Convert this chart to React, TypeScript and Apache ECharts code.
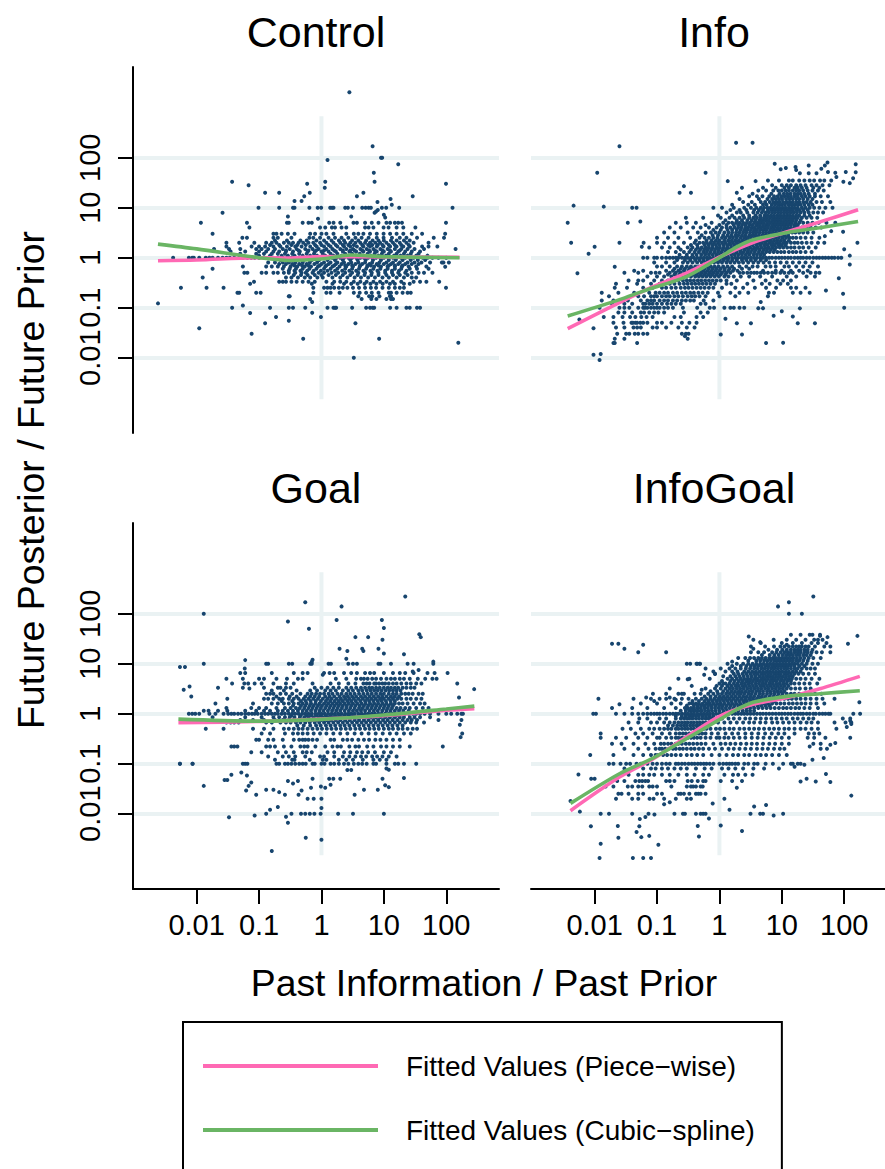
import React, { useEffect, useRef } from "react";
import * as echarts from "echarts";

const PIECE = "Fitted Values (Piece\u2212wise)";
const CUBIC = "Fitted Values (Cubic\u2212spline)";
const tickValues = [0.01, 0.1, 1, 10, 100];
const xMin = 0.000955, xMaxLeft = 700, xMaxRight = 451, yMin = 0.000312, yMax = 6516;
const vSpan = [0.00148, 676];
const titles = ["Control", "Info", "Goal", "InfoGoal"];
const pink = [
  [[0.0024,0.87],[0.01,0.9],[0.1,1.0],[0.3,0.98],[1,1.05],[10,1.03],[163,1.02]],
  [[0.0037,0.038],[0.06,0.215],[0.295,0.49],[1,1.03],[3.07,1.9],[11.9,3.26],[40.7,5.2],[167,9.1]],
  [[0.0051,0.66],[0.1,0.7],[1,0.78],[10,0.91],[100,1.17],[282,1.26]],
  [[0.0041,0.0115],[0.025,0.054],[0.087,0.126],[0.295,0.34],[1,0.885],[3.47,1.54],[11.9,2.09],[40.7,3.16],[178,5.58]],
];
const green = [
  [[0.0024,1.87],[0.01,1.5],[0.1,1.0],[0.3,0.88],[1,0.94],[3,1.13],[10,1.05],[163,1.0]],
  [[0.0037,0.068],[0.025,0.145],[0.06,0.215],[0.295,0.42],[1,1],[1.87,1.63],[3.47,2.29],[11.9,3.16],[40.7,3.98],[167,5.3]],
  [[0.0051,0.78],[0.1,0.71],[1,0.77],[10,0.94],[100,1.24],[282,1.42]],
  [[0.0041,0.0161],[0.025,0.063],[0.087,0.13],[0.295,0.316],[1,0.76],[1.87,1.2],[3.47,1.69],[11.9,2.22],[40.7,2.51],[178,2.88]],
];

type Rows = [number, number[]][];
const controlExtra = [[2.8,2030],[6.6,169],[9,100],[9.4,100],[1.25,90],[17,74],[6.9,50],[7.1,33],[0.037,33],[0.068,28],[0.59,30],[1.15,33],[1.13,25],[99,30],[0.125,20],[0.21,20],[0.65,20],[4.7,20],[0.53,17],[0.48,13.6],[0.37,13.6],[3.7,17],[29,17],[12.8,15],[7.9,13],[13.4,11.5],[0.026,7.9],[0.0117,5],[0.29,6.7],[0.88,6],[3,6.7],[7.1,7.9],[10,7.2],[10.5,6.4],[0.018,3],[0.07,4],[0.0024,0.122],[0.011,0.039],[0.055,0.111],[0.072,0.078],[0.076,0.03],[0.125,0.049],[0.187,0.065],[0.3,0.055],[0.51,0.024],[0.71,0.079],[0.71,0.13],[0.98,0.065],[3.5,0.049],[3.3,0.01],[8.4,0.024],[156,0.02],[0.0125,0.4],[0.018,0.6],[99,0.25],[77,0.33],[96,0.66],[85,0.8],[141,1.5],[8,9],[7.5,8.4]];
const controlRows: Rows = [
  [10,[0.098,0.21,0.35,0.37,0.64,0.87,0.99,1.38,1.48,1.56,2.4,2.65,3.2,4.5,5.1,5.7,6.2,9.3,10.9,17.6,126]],
  [5,[0.064,0.28,0.3,0.5,0.62,0.7,1.33,1.56,2,3.26,3.7,5,6.4,8.2,11,12.6,15,17,19.5,99]],
  [4,[0.95,1.15,1.47,1.65,2.1,2.5,5,5.7,6.8,9.9,11.9,16,20.5,32]],
  [3,[0.17,0.19,0.23,0.29,0.37,0.66,0.79,1,1.2,1.56,2.5,3.3,3.9,4.7,6,7.7,9.9,12.6,16,20.5,28,41,96]],
  [2.5,[0.054,0.064,0.17,0.2,0.33,0.64,0.74,0.95,1.3,1.65,2.1,2.7,3.5,4.4,5.7,7.7,9.9,13.5,18,23,34,63,92]],
  [2.2,[0.18,0.28,0.46,0.58,0.83,1.1,1.45,1.9,2.3,3.1,3.9,5.2,6.6,8.2,10,13,16,21,26]],
  [2,[0.03,0.048,0.084,0.13,0.16,0.19,0.25,0.3,0.35,0.43,0.51,0.62,0.74,0.95,1.2,1.56,2,2.4,2.9,3.5,4.2,5,6,7.3,8.7,11,14,18,23,30,52]],
  [1.8,[0.15,0.21,0.33,0.41,0.56,0.79,1,1.3,1.7,2.2,2.7,3.3,4.5,5.6,6.5,8,9.5,12,15,19,25]],
  [1.67,[0.03,0.076,0.1,0.125,0.17,0.22,0.28,0.38,0.48,0.66,0.84,1.1,1.4,1.8,2.3,2.9,3.7,4.7,6,7.7,9.9,12.6,16,20.5,26,41,52,72]],
  [1.5,[0.019,0.033,0.05,0.09,0.11,0.14,0.18,0.24,0.31,0.4,0.55,0.72,0.9,1.2,1.5,2,2.5,3.2,4.2,5.3,6.8,8.8,11.5,15,19,24,31,44]],
  [1.4,[0.27,0.43,0.62,0.82,1.1,1.6,2.2,2.9,3.4,4.5,5.8,7.2,9.5,12.5,18]],
  [1.33,[0.035,0.06,0.1,0.13,0.17,0.21,0.27,0.35,0.45,0.6,0.78,1,1.3,1.7,2.2,2.8,3.6,4.7,6,7.7,10,13,17,22,28,38]],
  [1.2,[0.05,0.09,0.12,0.16,0.2,0.26,0.34,0.44,0.58,0.76,1.05,1.4,1.8,2.4,3.1,4.1,5.5,7.1,9.3,12,16,21,27,36]],
  [1.1,[0.1,0.15,0.23,0.29,0.37,0.5,0.66,0.85,1.15,1.55,2.1,2.7,3.5,4.6,6.2,8.2,10.8,14.5,18.5,24,33,50]],
  [1,[0.0042,0.0075,0.0085,0.009,0.011,0.014,0.016,0.018,0.022,0.026,0.03,0.034,0.04,0.048,0.055,0.065,0.075,0.085,0.1,0.12,0.14,0.17,0.2,0.24,0.28,0.33,0.39,0.45,0.52,0.6,0.7,0.8,0.9,1,1.15,1.3,1.5,1.75,2,2.3,2.7,3.1,3.6,4.2,4.8,5.6,6.5,7.5,8.7,10,12,14,16,19,22,26,30,35,42,50,60,75,100]],
  [0.9,[0.22,0.3,0.4,0.52,0.7,0.92,1.25,1.65,2.2,2.9,3.8,5.1,6.7,9,12,15.5,20,27,35,46]],
  [0.8,[0.14,0.18,0.24,0.3,0.38,0.5,0.65,0.85,1.1,1.4,1.8,2.3,3,3.9,5,6.5,8.5,11,14,18,24,31,40,55,90,110]],
  [0.75,[0.21,0.27,0.34,0.44,0.58,0.77,1,1.3,1.7,2.1,2.7,3.5,4.5,5.9,7.7,10,13,17,22,28,36]],
  [0.7,[0.37,0.49,0.62,0.94,1.2,1.6,2.4,3.1,4.2,5.5,6.2,8.2,12,15,20]],
  [0.67,[0.055,0.13,0.16,0.2,0.25,0.32,0.41,0.54,0.68,0.88,1.15,1.5,1.95,2.5,3.2,4.1,5.4,7,9,11.5,15,19.5,25,33,48]],
  [0.6,[0.24,0.31,0.39,0.5,0.64,0.83,1.1,1.4,1.8,2.4,3.1,4,5.2,6.8,8.8,11.5,15,19,26,34,52]],
  [0.55,[0.3,0.37,0.46,0.59,0.75,0.98,1.25,1.65,2.15,2.8,3.6,4.7,6.1,7.9,10.5,13.5,17.5,23]],
  [0.5,[0.058,0.065,0.11,0.13,0.17,0.2,0.25,0.3,0.38,0.48,0.56,0.72,0.9,1.1,1.45,1.85,2.4,3.1,3.9,5,6.4,8.2,10.5,13.5,17,22,28,36,44,60]],
  [0.45,[0.36,0.47,0.6,0.78,1,1.3,1.7,2.2,2.9,3.8,4.9,6.3,8.2,11,14,18,24]],
  [0.4,[0.27,0.33,0.42,0.54,0.66,0.86,1.05,1.5,2,2.6,3.4,4.3,5.6,7.2,9.5,12,16,21,28,33]],
  [0.33,[0.083,0.21,0.24,0.27,0.33,0.4,0.5,0.62,0.78,1.2,1.6,2,2.5,3.3,4.2,5.3,6.8,8.7,11,14,19,30,38,48]],
  [0.3,[0.072,0.7,1.5,2.3,3,3.8,4.9,6.1,7.6,9.6,12.5,15,21,26]],
  [0.25,[0.0056,0.0144,0.027,0.74,1.1,1.25,1.4,1.6,1.9,2.2,2.6,3.2,4,5,6.2,7.5,9.5,12,15,18,21]],
  [0.2,[0.045,0.048,0.09,0.106,0.74,1.2,1.4,1.95,3.3,4.1,5.2,6.4,8.2,12,13,16,20,24,27]],
  [0.17,[0.3,0.31,3.9,5.8,6.5,8.5,12.5,13]],
  [0.15,[0.66,4.4,6.3,7.6,11,13,14]],
  [0.1,[0.037,0.15,0.3,0.35,0.55,1.25,1.56,1.65,1.72,3.1,5.2,6,6.6,7,12.6,16,23,26,34,38]],
];

const infoExtra = [[0.025,170],[1.85,200],[3.4,200],[0.011,50],[0.6,50],[0.0046,11],[0.014,10.5],[0.04,10],[0.047,10],[0.0037,5],[0.034,5],[0.054,5.3],[0.0042,2],[0.025,2],[0.057,1.66],[0.01,1.66],[0.008,1.2],[0.0053,0.49],[0.021,0.66],[0.27,27],[0.23,20],[0.35,20],[1.36,34],[3.8,34],[1.9,20],[2.3,25],[7.7,76],[9.6,59],[11.6,62],[16.6,65],[27,70],[54,80],[153,74],[153,51],[106,52],[72,50],[43,60],[49,70],[19.5,49],[27,49],[36,49],[17,57],[139,39],[123,31],[97,33],[75,41],[55,52],[163,2],[123,1.1],[123,0.73],[100,1.47],[96,3.3],[62,3.4],[49,2.7],[82,0.39],[96,0.19],[100,0.1],[51,0.22],[0.0096,0.0115],[0.0125,0.0119],[0.012,0.009],[0.0096,0.039],[0.0057,0.058],[0.048,0.0196],[0.02,0.0196],[0.021,0.0196],[0.021,0.024],[0.03,0.024],[0.31,0.024],[0.28,0.027],[1.05,0.029],[2.3,0.029],[5.6,0.0196],[10.5,0.02],[34,0.049],[18,0.049],[3.2,0.049],[1.9,0.049],[10,0.085],[7.4,0.069],[15,0.067],[19.5,0.097],[4.6,0.13],[4.2,0.098],[5,0.098],[1.25,0.06]];
const infoRows: Rows = [
  [35,[6,9,13,15,19,23,28,33,41,48,62]],
  [28,[7,10,12,14,17,20,24,30,36,45,58]],
  [25,[5,8,11,13,16,18,21,25,32,40]],
  [22,[4.2,5.6,7.3,8.8,10,11.5,13,15,17,19,22,26,31,38,47]],
  [19,[3.4,6.8,9.2,10.8,12.2,13.8,16,18,20,23,27,34]],
  [17,[3,4,4.9,6.3,7.5,8.6,9.8,11,12.5,14,16,18,21,24,28,34,42,55]],
  [15,[2.1,4.3,5.9,7,8,9,10.1,11.7,13.2,15,17,19,22,26,31]],
  [13,[2.4,3.3,4.6,5.4,6.4,7.3,8.3,9.3,10.5,12,13.5,15,17,19,22,25,29,36,44,60]],
  [11.5,[1.6,2.9,3.7,5,5.7,6.9,7.8,8.8,9.9,11.2,12.7,14.2,16,18,20,23,27,31]],
  [10,[0.8,1.1,1.7,2.5,3.2,3.9,4.6,5.2,5.9,6.6,7.4,8.3,9.2,10.3,11.5,13,14.5,16,18,21,24,28,33,40,50,65]],
  [9,[1.5,2.1,2.7,3.6,4.3,5,6,6.8,7.6,8.5,9.6,10.8,12,13.4,15,17,19,22,26]],
  [8,[1.3,1.9,2.2,2.8,3.5,4.1,4.8,5.5,6.2,7,7.8,8.8,9.8,11,12.3,13.8,15.5,17.5,20,23,27,32,38,46]],
  [7,[0.95,1.6,2.4,3,3.8,4.5,5.3,5.9,6.7,7.5,8.5,9.5,10.7,12,13.3,15,17,19,23,28]],
  [6.3,[0.29,0.55,1.05,1.45,1.75,2.1,2.5,3,3.5,4,4.6,5.2,5.8,6.5,7.3,8.2,9.1,10.2,11.4,12.8,14.3,16,18,21,25,30,37]],
  [5.6,[1.25,1.9,2.3,2.8,3.3,3.8,4.4,4.9,5.5,6.2,7,7.8,8.7,9.7,10.9,12.2,13.6,15,17,20]],
  [5,[0.2,0.3,0.42,0.75,1.15,1.4,1.6,1.85,2.1,2.4,2.75,3.1,3.6,4.1,4.6,5.1,5.8,6.5,7.3,8.2,9.2,10.3,11.6,13,14.5,16.5,19,22,26,31,39,52,72]],
  [4.5,[0.6,1,1.3,1.7,2,2.3,2.6,3,3.4,3.9,4.4,5,5.6,6.2,7,7.9,8.9,10,11.2,12.5,14,16,18]],
  [4,[0.16,0.24,0.38,0.5,0.68,0.9,1.1,1.3,1.5,1.75,2,2.25,2.6,2.9,3.3,3.7,4.2,4.7,5.3,6,6.8,7.6,8.6,9.7,11,12.4,14,16,18,21,25,29,35,43]],
  [3.6,[0.8,1.05,1.35,1.6,1.9,2.2,2.5,2.8,3.2,3.6,4,4.5,5.1,5.7,6.5,7.3,8.3,9.3,10.5,11.8,13.5,15]],
  [3.2,[0.13,0.19,0.31,0.45,0.6,0.73,0.87,1,1.2,1.4,1.6,1.85,2.1,2.4,2.7,3.1,3.5,3.9,4.4,5,5.6,6.3,7.1,8,9,10.2,11.5,13,14.7,16.5,19,22,26,32]],
  [2.8,[0.52,0.78,0.95,1.15,1.35,1.55,1.8,2,2.3,2.6,3,3.4,3.8,4.3,4.9,5.5,6.1,6.9,7.8,8.8,9.9,11,12.6]],
  [2.5,[0.1,0.15,0.22,0.34,0.48,0.58,0.68,0.8,0.93,1.1,1.25,1.45,1.65,1.9,2.2,2.5,2.8,3.2,3.7,4.2,4.8,5.4,6.2,7,8,9,10.3,11.7,13.3,15,17,20,24,30,40]],
  [2.2,[0.42,0.62,0.75,0.88,1,1.2,1.38,1.58,1.8,2.05,2.35,2.65,3,3.4,3.9,4.5,5.1,5.8,6.6,7.5,8.5,9.7,11,13]],
  [2,[0.061,0.1,0.13,0.19,0.27,0.4,0.48,0.55,0.63,0.72,0.82,0.95,1.1,1.25,1.45,1.65,1.9,2.15,2.45,2.8,3.2,3.7,4.2,4.8,5.5,6.3,7.2,8.2,9.3,10.7,12,14,16,18,21,25,30,38,48]],
  [1.8,[0.35,0.44,0.58,0.67,0.77,0.88,1,1.16,1.33,1.52,1.73,2,2.3,2.6,3,3.4,3.95,4.5,5.2,5.9,6.8,7.7,8.8,10,11.5]],
  [1.6,[0.075,0.12,0.16,0.22,0.31,0.37,0.45,0.52,0.6,0.68,0.78,0.9,1.02,1.18,1.35,1.55,1.78,2.05,2.35,2.7,3.1,3.6,4.1,4.7,5.4,6.2,7.1,8.1,9.3,10.6,12.2,14,16,19,22,27,35]],
  [1.45,[0.24,0.35,0.42,0.49,0.57,0.65,0.74,0.85,0.97,1.12,1.28,1.47,1.68,1.93,2.2,2.55,2.9,3.35,3.85,4.4,5.1,5.8,6.7,7.7]],
  [1.3,[0.15,0.2,0.27,0.33,0.4,0.47,0.55,0.63,0.72,0.83,0.95,1.08,1.24,1.42,1.63,1.87,2.15,2.45,2.8,3.2,3.7,4.3,4.9,5.6,6.4,7.4,8.5,9.7,11,13,15,17,20,24,30]],
  [1.15,[0.23,0.3,0.37,0.43,0.51,0.59,0.68,0.78,0.89,1.02,1.17,1.34,1.54,1.76,2,2.3,2.65,3,3.5,4,4.6,5.2]],
  [1,[0.06,0.07,0.09,0.1,0.12,0.14,0.16,0.18,0.2,0.22,0.25,0.28,0.31,0.35,0.39,0.44,0.5,0.56,0.63,0.7,0.79,0.88,1,1.12,1.26,1.4,1.6,1.8,2,2.25,2.5,2.8,3.2,3.6,4,4.5,5,5.6,6.3,7,8,9,10,11.2,12.6,14,16,18,20,22,25,28,32,36,40,45,50,56,63,70,80,90]],
  [0.9,[0.21,0.28,0.34,0.41,0.48,0.56,0.65,0.76,0.88,1.02,1.18,1.37,1.6,1.9,2.3,2.7,3.2,3.8,4.6,5.6]],
  [0.8,[0.09,0.14,0.19,0.26,0.31,0.37,0.44,0.52,0.6,0.7,0.82,0.95,1.1,1.3,1.5,1.75,2.05,2.4,2.9,3.5,4.2,5.1,6.3,7.8,9.6,12,15,19,24,31]],
  [0.67,[0.12,0.1,0.16,0.21,0.25,0.3,0.35,0.41,0.47,0.55,0.63,0.73,0.84,0.97,1.15,1.35,1.6,2.1,2.7,3.4,4.1,5.5,6.6,8,11,13,17,22,28,38]],
  [0.6,[0.19,0.24,0.28,0.33,0.38,0.44,0.51,0.58,0.67,0.78,0.9,1.05,1.22,1.45,1.72,2.3,3]],
  [0.55,[0.043,0.06,0.14,0.18,0.22,0.27,0.32,0.37,0.42,0.49,0.56,0.65,0.75,0.87,1,1.2,1.4,1.65,1.95,5,8,10,14,19,26]],
  [0.5,[0.03,0.05,0.08,0.095,0.11,0.16,0.2,0.24,0.29,0.34,0.39,0.45,0.52,0.6,0.7,0.8,0.93,1.1,1.3,1.5,2.1,2.4,2.8,3.2,3.6,4,4.6,5.2,6,7,8,9.5,11,13,15,22,29,35,40]],
  [0.46,[0.15,0.19,0.23,0.27,0.32,0.37,0.43,0.5,0.58,0.67,0.77,0.9,1.05,1.25]],
  [0.42,[0.07,0.1,0.13,0.17,0.21,0.26,0.3,0.35,0.41,0.47,0.54,0.62,0.72,0.84,0.98,1.2,1.4,1.7,2.2,3,4.5,7,12,17,25,34]],
  [0.35,[0.035,0.05,0.06,0.09,0.12,0.15,0.18,0.22,0.26,0.3,0.34,0.39,0.45,0.51,0.59,0.68,0.78,0.9,1.05,1.3,1.9,3.5,5.5,8.5,10.5,14]],
  [0.3,[0.022,0.048,0.08,0.11,0.13,0.16,0.19,0.23,0.27,0.31,0.36,0.41,0.47,0.54,0.62,0.72,0.85,1.3,1.55,2.8,4.8,6.4,9.5,12.5]],
  [0.25,[0.021,0.033,0.06,0.085,0.12,0.14,0.17,0.2,0.24,0.28,0.32,0.37,0.43,0.5,0.58,0.68,0.8,1.1,1.8,2.4,3.7,5.6,8.1,14,17,24]],
  [0.2,[0.013,0.024,0.043,0.075,0.095,0.11,0.13,0.15,0.18,0.21,0.25,0.29,0.34,0.39,0.46,0.54,0.65,0.95,1.5,2.1,2.9,6.2,7.5,15,20,28]],
  [0.17,[0.017,0.05,0.062,0.08,0.09,0.1,0.12,0.14,0.16,0.19,0.22,0.26,0.31,0.36,0.41,0.48,0.6,1,1.8,6]],
  [0.14,[0.013,0.02,0.034,0.055,0.07,0.08,0.09,0.11,0.13,0.15,0.18,0.21,0.25,0.29,0.34,0.39,0.56,0.8]],
  [0.12,[0.019,0.03,0.04,0.06,0.065,0.075,0.085,0.1,0.12,0.145,0.17,0.2,0.24,0.5,0.6]],
  [0.1,[0.012,0.025,0.03,0.036,0.05,0.06,0.064,0.07,0.08,0.09,0.1,0.11,0.13,0.15,0.18,0.26,0.44,0.7,0.82,1.2,1.5,1.7,2.1,2.5]],
  [0.08,[0.024,0.03,0.04,0.055,0.062,0.075,0.09,0.105,0.13,0.27,0.5,0.65]],
  [0.065,[0.014,0.02,0.028,0.037,0.045,0.056,0.068,0.085,0.19,0.24,0.43,0.55]],
  [0.05,[0.02,0.029,0.039,0.041,0.045,0.048,0.054,0.06,0.07,0.1,0.12,0.17,0.25,0.33,0.43]],
  [0.04,[0.022,0.03,0.042,0.048,0.055,0.085,0.1,0.14,0.22,0.3,0.4]],
  [0.03,[0.023,0.032,0.036,0.044,0.05,0.06,0.07,0.25,0.29,0.32]],
];

const goalExtra = [[0.55,170],[2.1,140],[22,220],[0.013,100],[0.29,70],[1.75,75],[0.63,50],[9.3,75],[10,52],[37,39],[39,34],[3.5,34],[5.6,34],[9.5,30],[1.95,20],[2.6,18],[4.5,20],[4.7,18],[8.2,20],[10,16],[21,15.5],[2.5,12.6],[0.06,11.8],[0.72,12],[0.7,11],[62,11],[0.0054,8.6],[1.05,6],[0.0065,8.6],[0.059,8],[29,7],[36,7.5],[0.07,3.2],[0.0077,3.5],[0.0082,2.2],[0.0062,3],[0.0054,0.1],[0.0086,0.1],[0.013,0.036],[0.033,0.0085],[0.085,0.0092],[0.16,0.0018],[0.56,0.0033],[1,0.003],[0.031,0.047],[0.028,0.047],[0.036,0.06],[0.052,0.067],[0.064,0.058],[0.075,0.042],[0.068,0.036],[0.062,0.029],[0.09,0.024],[0.15,0.012],[0.27,0.0087],[0.33,0.01],[0.13,0.01],[0.47,0.01],[0.55,0.01],[0.65,0.01],[0.77,0.01],[0.97,0.01],[1.85,0.01],[3.2,0.01],[10,0.01],[0.29,0.0066],[0.2,0.0136],[1,0.013],[0.75,0.02],[1,0.02],[0.6,0.02],[0.43,0.024],[0.21,0.027],[0.26,0.024],[0.17,0.03],[0.13,0.03],[0.29,0.045],[0.35,0.04],[0.48,0.029],[0.42,0.045],[0.68,0.033],[0.72,0.05],[0.98,0.035],[1.4,0.038],[1.15,0.033],[1.33,0.05],[1.55,0.05],[2,0.05],[3.4,0.024],[4.8,0.03],[4,0.05],[8,0.03],[9.5,0.05],[10.5,0.037],[12,0.034],[21,0.052],[11,0.08],[12,0.076],[2.6,0.075],[3,0.075],[175,0.75],[165,0.6],[180,0.4],[170,0.34],[88,0.22],[280,3.1],[160,2.1]];
const goalRows: Rows = [
  [10,[0.013,0.13,0.14,0.3,0.34,0.66,0.7,1.3,1.42,2.7,3.2,3.7,8.2,8.8,13,24,30,62]],
  [6.5,[0.05,0.06,0.16,0.36,0.5,0.6,1.1,1.35,1.6,2.3,3,3.7,5,6,7,10,14,18,22,30,50,65,105]],
  [5,[0.03,0.055,0.1,0.12,0.19,0.28,0.42,0.5,1.7,2.5,3.6,4.3,4.8,5.5,6.5,7.5,9,11,13,15,18,21,26,35,46,60,70]],
  [4,[0.037,0.058,0.067,0.085,0.11,0.17,0.27,0.36,0.72,1.4,1.9,2.7,3.5,4.7,5.3,5.9,7,7.5,8.4,9.5,10.5,12,14,16,19,23,27,33,40,150]],
  [3.3,[0.022,0.055,0.12,0.2,0.22,0.27,0.32,0.78,1,1.25,1.55,1.9,2.5,3,3.6,4.3,5,5.8,6.5,7.5,8.6,10,11.5,13,15,17,20,23,27,31]],
  [2.9,[0.16,0.25,0.4,0.66,0.85,1.15,1.4,1.7,2.2,2.7,3.2,3.9,4.5,5.3,6.1,7,8,9.2,10.7,12.2,14,16,18.5]],
  [2.5,[0.13,0.15,0.17,0.22,0.27,0.34,0.46,0.6,0.7,0.82,0.95,1.1,1.3,1.5,1.8,2.1,2.5,2.9,3.4,4,4.7,5.5,6.4,7.5,8.8,10,12,14,16,19,22,25,29,36,42]],
  [2.2,[0.19,0.31,0.4,0.55,0.66,0.78,0.92,1.15,1.35,1.6,1.95,2.3,2.65,3.1,3.6,4.3,5,5.9,6.9,8.1,9.4,11,13,15,17.5]],
  [2,[0.031,0.12,0.14,0.17,0.21,0.24,0.3,0.36,0.43,0.52,0.62,0.74,0.88,1.05,1.25,1.45,1.75,2.05,2.4,2.8,3.3,3.9,4.6,5.4,6.3,7.4,8.7,10,12,14,16.5,19,23,27,33,40]],
  [1.8,[0.23,0.34,0.47,0.56,0.67,0.81,0.98,1.18,1.38,1.62,1.9,2.2,2.6,3,3.55,4.2,5,5.8,6.8,8,9.2,10.8,12.8,15]],
  [1.6,[0.02,0.08,0.16,0.2,0.25,0.3,0.36,0.43,0.5,0.58,0.68,0.8,0.93,1.1,1.28,1.5,1.75,2,2.35,2.75,3.2,3.75,4.4,5.1,6,7,8.1,9.5,11,13,15,17.5,20,24,30,38,45]],
  [1.45,[0.35,0.47,0.55,0.65,0.75,0.88,1.02,1.2,1.4,1.63,1.9,2.2,2.55,3,3.5,4.1,4.8,5.6,6.5,7.6,8.9,10.3,12,14]],
  [1.3,[0.03,0.075,0.1,0.13,0.19,0.26,0.32,0.39,0.45,0.53,0.62,0.72,0.84,0.98,1.15,1.34,1.56,1.82,2.13,2.5,2.9,3.4,4,4.6,5.4,6.3,7.3,8.5,10,11.6,13.5,16,18.5,22,26,33,42,52]],
  [1.15,[0.013,0.0155,0.022,0.031,0.06,0.09,0.12,0.15,0.2,0.24,0.29,0.35,0.42,0.5,0.58,0.68,0.8,0.93,1.08,1.27,1.48,1.72,2,2.35,2.75,3.2,3.7,4.3,5,5.9,6.9,8,9.4,11,12.8,15,17.5,20.5,25]],
  [1,[0.0075,0.0085,0.0095,0.011,0.016,0.02,0.027,0.032,0.036,0.04,0.046,0.052,0.06,0.068,0.077,0.085,0.095,0.11,0.125,0.14,0.16,0.18,0.2,0.23,0.26,0.3,0.34,0.38,0.43,0.49,0.55,0.62,0.7,0.8,0.9,1,1.13,1.28,1.45,1.64,1.85,2.1,2.4,2.7,3,3.4,3.9,4.4,5,5.6,6.4,7.2,8.2,9.2,10.5,12,13.5,15,17,19,22,25,29,33,38,45,55,75,100,120,150,175,185]],
  [0.92,[0.33,0.46,0.58,0.68,0.82,0.98,1.17,1.4,1.65,1.95,2.35,2.75,3.3,3.95,4.8,5.7,6.8,8,9.6,11.4,13.8,16]],
  [0.85,[0.018,0.06,0.11,0.17,0.21,0.26,0.31,0.37,0.45,0.53,0.62,0.75,0.9,1.05,1.25,1.5,1.8,2.15,2.55,3,3.6,4.3,5.2,6.2,7.4,8.8,10.5,12.5,15,18,21,26,31,38,55]],
  [0.75,[0.05,0.08,0.12,0.18,0.24,0.3,0.36,0.43,0.5,0.6,0.7,0.84,1,1.2,1.42,1.7,2,2.4,2.85,3.4,4,4.8,5.7,6.8,8.1,9.7,11.5,13.8,16.5,20,24,28,34,75]],
  [0.67,[0.03,0.035,0.04,0.047,0.13,0.16,0.22,0.27,0.32,0.39,0.46,0.55,0.65,0.78,0.92,1.1,1.3,1.55,1.85,2.2,2.6,3.1,3.7,4.4,5.2,6.2,7.4,8.8,10.5,12.5,15,18,22,27,33,44]],
  [0.58,[0.41,0.52,0.66,0.82,0.97,1.18,1.4,1.66,2,2.35,2.8,3.35,4,4.75,5.7,6.8,8.1,9.6,11.5,13.7,16.5,20]],
  [0.5,[0.014,0.027,0.08,0.12,0.17,0.25,0.3,0.36,0.43,0.5,0.6,0.72,0.86,1.02,1.22,1.45,1.72,2.05,2.45,2.9,3.5,4.15,5,5.9,7,8.3,10,12,14,17,20,24,29,34]],
  [0.4,[0.11,0.15,0.26,0.35,0.42,0.5,0.6,0.75,0.95,1.2,1.55,2,2.6,3.4,4.4,5.7,7.4,9.6,12.5,16,21,27]],
  [0.3,[0.09,0.1,0.14,0.17,0.24,0.36,0.44,0.5,0.55,0.62,0.72,0.85,1.4,1.6,2.2,2.6,3.1,3.9,4.8,5.8,7.3,8.8,11,14,18]],
  [0.22,[0.036,0.04,0.045,0.13,0.15,0.18,0.25,0.33,0.46,0.53,0.6,0.8,1.15,1.5,1.8,2.05,2.8,3.5,4,5.4,6.8,9,11,14,18,26]],
  [0.17,[0.075,0.11,0.2,0.27,0.36,0.5,0.58,0.7,1.25,1.6,2.3,2.9,3.7,4.5,5.6,7.2,10,13]],
  [0.14,[0.14,0.24,0.3,0.38,0.55,0.95,1.1,1.6,2.2,2.8,3.5,4.3,5.2,6.5,7.8,9.5,12,16]],
  [0.12,[0.18,0.34,0.37,0.65,1.05,1.2,1.9,2.5,3.2,4.6,6.8,8.6,11]],
  [0.1,[0.0054,0.0086,0.055,0.06,0.065,0.19,0.21,0.26,0.29,0.33,0.38,0.44,0.5,0.56,0.72,0.78,1,1.12,1.4,1.6,1.9,2.3,2.7,3.3,3.9,4.5,5.3,6.8,7.5,11,15,17,21,33]],
];

const infoGoalExtra = [[13,170],[32,220],[8.7,140],[13,100],[21,100],[31,38],[38,30],[54,34],[41,36],[163,36],[2.95,35],[4.5,27],[3.2,22],[3.5,20],[115,25],[12,24],[0.024,25],[0.03,20],[0.019,25],[0.05,17],[0.06,24],[0.14,17],[0.34,10],[0.43,10],[0.49,10],[0.31,4.9],[0.36,3.6],[0.52,3],[0.57,6],[1.6,11],[0.8,7],[0.85,6.2],[0.025,1.55],[0.019,1.3],[0.067,2.1],[0.09,1.8],[0.16,2.1],[0.2,1.9],[1.9,0.033],[7.4,0.0092],[0.0055,0.061],[0.0088,0.05],[0.01,0.05],[0.0041,0.018],[0.0058,0.011],[0.0125,0.01],[0.017,0.01],[0.0087,0.0056],[0.0125,0.0025],[0.012,0.0013],[0.0235,0.0057],[0.024,0.0033],[0.041,0.0013],[0.06,0.0013],[0.08,0.0013],[0.105,0.0024],[0.056,0.0034],[0.047,0.0043],[0.053,0.0078],[0.04,0.01],[0.065,0.0086],[0.073,0.01],[0.091,0.0096],[0.075,0.0036],[0.052,0.0056],[0.13,0.0155],[0.16,0.017],[0.19,0.01],[0.26,0.01],[0.28,0.01],[0.42,0.01],[0.5,0.01],[0.55,0.01],[0.6,0.01],[0.45,0.0057],[0.47,0.0035],[0.68,0.008],[0.78,0.016],[1.05,0.0058],[1.2,0.02],[1.45,0.012],[2.3,0.0045],[3.15,0.01],[3.6,0.014],[4.5,0.01],[5,0.01],[5.6,0.015],[10.5,0.01],[130,0.023],[130,0.62],[60,0.043],[35,0.044],[25,0.05],[20,0.044],[51,0.062],[47,0.13],[16,0.087],[20,0.1],[23,0.095],[31,0.12],[140,1],[180,1],[175,1.7],[125,0.33],[110,0.54],[125,0.72],[75,0.5],[60,0.24],[72,0.26],[42,0.2],[28,0.22],[53,0.2]];
const infoGoalRows: Rows = [
  [38,[14,20,28,41]],
  [30,[3.5,7.4,12,17,24,33,45]],
  [26,[4.6,10,15,21,30,38,52]],
  [22,[5.4,7.5,9.5,11,13,15,17,19,21,24,27,34,48,60]],
  [19,[6.1,8.4,10.2,12,14,16,18,20,23,26,31]],
  [17,[3.2,4.2,5.2,7,8.2,9.6,11,12.5,14,16,18,20,23,26,30,36,44,60]],
  [15,[4.8,6.4,7.6,8.9,10.4,11.8,13.3,15,17,19,22,25,29]],
  [13,[2,2.6,3.1,3.6,4.2,4.8,5.5,6.3,7.2,8,9,10,11.2,12.5,14,15.5,17.5,20,23,27,32,42]],
  [11.5,[2.9,3.9,4.5,5.2,5.9,6.7,7.6,8.5,9.5,10.7,12,13.4,15,17,19,22,26]],
  [10,[0.3,0.44,0.48,1.35,1.9,2.4,2.9,3.4,3.9,4.5,5.1,5.8,6.5,7.3,8.2,9.2,10.3,11.5,13,14.5,16,18,21,25,31,38]],
  [9,[1.6,2.2,2.7,3.2,3.7,4.2,4.8,5.5,6.2,7,7.9,8.9,10,11.2,12.5,14,16,19,23]],
  [8,[0.6,1.05,1.45,1.8,2.2,2.65,3.1,3.6,4.1,4.7,5.3,6,6.8,7.6,8.6,9.7,11,12.3,14,16,18,21,25,29,34]],
  [7,[1.25,1.6,1.95,2.5,2.9,3.35,3.85,4.4,5,5.7,6.4,7.2,8.1,9.1,10.2,11.6,13,15,17,20]],
  [6.3,[0.85,1.7,2,2.35,2.7,3.15,3.6,4.1,4.7,5.3,6,6.7,7.6,8.5,9.6,11,12.3,14,16,18.5,22,27,34]],
  [5.6,[1.15,1.5,1.8,2.1,2.45,2.85,3.3,3.8,4.4,5,5.7,6.4,7.2,8.1,9.2,10.4,11.7,13.3,15]],
  [5,[0.22,0.33,0.7,1.35,1.6,1.9,2.2,2.5,2.85,3.2,3.65,4.1,4.7,5.3,6,6.8,7.7,8.7,9.9,11.3,12.8,14.5,17,20,24,30,40]],
  [4.5,[1.1,1.5,1.75,2.05,2.35,2.7,3.05,3.45,3.9,4.45,5,5.7,6.5,7.3,8.3,9.5,10.8,12.3,14]],
  [4,[1,1.15,1.25,1.45,1.7,1.95,2.25,2.55,2.9,3.3,3.8,4.3,4.9,5.5,6.3,7.1,8.1,9.2,10.5,12,14,16,19,23,28,37]],
  [3.6,[0.9,1.1,1.35,1.55,1.8,2.05,2.35,2.65,3,3.45,3.9,4.5,5.1,5.8,6.6,7.5,8.5,9.7,11,12.7]],
  [3.2,[0.16,0.6,0.85,1.05,1.25,1.45,1.65,1.9,2.15,2.45,2.8,3.2,3.65,4.15,4.7,5.4,6.1,7,8,9.1,10.4,12,14,16.5,19.5,24,29]],
  [2.8,[0.72,0.92,1.15,1.35,1.55,1.78,2.05,2.3,2.65,3,3.4,3.9,4.4,5,5.8,6.5,7.5,8.5,9.7,11]],
  [2.5,[0.086,0.14,0.22,0.25,0.27,0.4,0.5,0.66,0.8,0.95,1.1,1.28,1.47,1.68,1.93,2.2,2.5,2.9,3.3,3.8,4.4,5,5.8,6.7,7.7,8.9,10.3,12,14,16,19,23,28,34,43]],
  [2.2,[0.58,0.72,0.87,1.02,1.18,1.36,1.57,1.8,2.08,2.4,2.75,3.15,3.6,4.2,4.8,5.5,6.4,7.4,8.5,9.8]],
  [2,[0.0115,0.042,0.08,0.11,0.14,0.19,0.25,0.32,0.42,0.52,0.62,0.72,0.83,0.96,1.1,1.27,1.46,1.68,1.94,2.25,2.6,3,3.45,4,4.6,5.3,6.1,7,8.1,9.4,11,12.6,14.5,17,20,24,29,36,45,70]],
  [1.8,[0.37,0.47,0.58,0.67,0.77,0.89,1.02,1.18,1.35,1.55,1.8,2.07,2.4,2.75,3.2,3.7,4.25,4.9,5.7,6.6,7.6]],
  [1.6,[0.055,0.1,0.17,0.24,0.33,0.37,0.42,0.47,0.54,0.62,0.7,0.8,0.92,1.05,1.2,1.4,1.6,1.85,2.15,2.5,2.9,3.35,3.9,4.5,5.2,6,7,8.2,9.5,11,13,15,17.5,20.5,24,29,36,48]],
  [1.45,[0.3,0.39,0.45,0.51,0.58,0.66,0.75,0.86,0.99,1.13,1.3,1.5,1.73,2,2.3,2.65,3.05,3.5,4.1,4.7,5.5,6.4]],
  [1.3,[0.04,0.07,0.13,0.2,0.28,0.31,0.35,0.39,0.44,0.5,0.57,0.65,0.74,0.85,0.97,1.1,1.27,1.47,1.7,2,2.3,2.7,3.1,3.6,4.2,4.9,5.7,6.6,7.7,9,10.5,12,14,16.5,19,23,28,38]],
  [1.15,[0.24,0.29,0.33,0.37,0.41,0.46,0.52,0.59,0.67,0.76,0.87,1,1.16,1.33,1.53,1.75,2,2.35,2.7,3.1,3.6]],
  [1,[0.0095,0.0105,0.022,0.03,0.04,0.05,0.06,0.07,0.08,0.09,0.1,0.11,0.125,0.14,0.16,0.18,0.2,0.22,0.25,0.28,0.31,0.35,0.39,0.44,0.5,0.56,0.63,0.7,0.79,0.89,1,1.12,1.26,1.41,1.6,1.8,2,2.25,2.5,2.8,3.15,3.55,4,4.5,5,5.6,6.3,7.1,8,9,10,11.2,12.6,14,16,18,20,22,25,28,32,35,40,45,50,56,60]],
  [0.9,[0.2,0.25,0.29,0.33,0.37,0.42,0.47,0.54,0.61,0.7,0.8]],
  [0.8,[0.052,0.07,0.11,0.14,0.2,0.24,0.27,0.3,0.33,0.37,0.42,0.47,0.53,0.6,0.67,0.75,0.9,1.1,1.4,1.7,2.1,2.6,3.1,3.8,4.6,5.6,6.8,8.2,10,12,15,18,22,27,32,95,125]],
  [0.67,[0.035,0.05,0.08,0.1,0.13,0.16,0.19,0.22,0.25,0.28,0.31,0.35,0.39,0.44,0.49,0.55,0.61,0.68,0.77,0.95,1.2,1.5,1.9,2.4,3,3.6,4.5,5.5,7,8.5,10.5,13,16,20,25,30,38,70,105,130]],
  [0.58,[0.15,0.18,0.21,0.24,0.27,0.3,0.34,0.38,0.43,0.48,0.54,0.6]],
  [0.5,[0.028,0.038,0.055,0.075,0.09,0.11,0.13,0.15,0.17,0.2,0.22,0.25,0.28,0.31,0.35,0.39,0.44,0.5,0.56,0.62,0.72,0.88,1.02,1.2,1.45,1.7,2.1,2.5,3,3.6,4.3,5.2,6.3,7.5,9,11,13,16,20,24,30,38]],
  [0.4,[0.0125,0.045,0.06,0.085,0.12,0.16,0.2,0.23,0.26,0.29,0.33,0.37,0.42,0.47,0.53,0.6,0.75,0.95,1.25,1.6,2,2.6,3.3,4.2,5.4,6.9,8.8,11,16,27,33,40]],
  [0.33,[0.0125,0.022,0.032,0.05,0.07,0.1,0.11,0.14,0.17,0.2,0.22,0.25,0.28,0.31,0.35,0.39,0.44,0.5,0.6,0.72,0.9,1,1.2,1.4,1.7,2.1,2.6,3.3,4.1,5.1,6.4,8,10,13,26,33,50]],
  [0.25,[0.019,0.027,0.042,0.065,0.09,0.115,0.13,0.15,0.17,0.2,0.22,0.25,0.29,0.33,0.38,0.44,0.51,0.6,0.8,1.05,1.25,1.5,1.8,2.2,2.7,3.3,4,5,6.3,7.8,10,13,32,42]],
  [0.2,[0.03,0.05,0.073,0.095,0.11,0.12,0.135,0.155,0.18,0.2,0.23,0.26,0.3,0.35,0.4,0.47,0.55,0.68,0.85,1.1,1.4,1.7,2.1,2.6,3.2,4,4.9,6,7.5,9.3,11]],
  [0.15,[0.0085,0.02,0.042,0.06,0.08,0.095,0.105,0.125,0.145,0.17,0.2,0.24,0.3,0.36,0.44,0.55,0.75,1,1.3,1.65,2,2.5,3,3.8,4.6,5.6,7,9,12]],
  [0.1,[0.017,0.02,0.026,0.032,0.037,0.047,0.055,0.07,0.085,0.1,0.12,0.14,0.16,0.2,0.22,0.25,0.28,0.32,0.36,0.4,0.45,0.5,0.56,0.62,0.7,0.8,1,1.15,1.3,1.45,1.6,1.8,2,2.5,2.9,3.6,4.1,5.5,7.2,10.5,14,15,18]],
  [0.08,[0.03,0.04,0.06,0.08,0.095,0.12,0.15,0.19,0.24,0.3,0.42,0.58,0.75,1.1,1.4,1.8,2.4,3.5,5.2,9]],
  [0.06,[0.026,0.035,0.05,0.06,0.075,0.09,0.12,0.16,0.22,0.3,0.4,0.55,0.68,1.2,1.65,2,2.6,3.4]],
  [0.045,[0.023,0.03,0.045,0.052,0.058,0.065,0.072,0.14,0.16,0.19,0.31,0.36,0.45,0.55,0.6,1.05,1.6,2.3]],
  [0.035,[0.015,0.02,0.034,0.04,0.05,0.058,0.075,0.085,0.1,0.17,0.3,0.35,0.38,0.42,0.5,0.54]],
  [0.025,[0.024,0.027,0.035,0.05,0.06,0.1,0.12,0.22,0.24,0.27,0.33,0.42,0.46,0.5,0.6]],
  [0.02,[0.022,0.04,0.05,0.076,0.088,0.13,0.2,0.3,0.35]],
];

const flatten = (rows: Rows, extra: number[][]) => [
  ...rows.flatMap(([y, xs]) => xs.map((x) => [x, y])),
  ...extra,
];
const pts = [
  flatten(controlRows, controlExtra),
  flatten(infoRows, infoExtra),
  flatten(goalRows, goalExtra),
  flatten(infoGoalRows, infoGoalExtra),
];

export default function App() {
  const ref = useRef<HTMLDivElement>(null);
  useEffect(() => {
    const chart = echarts.init(ref.current!, undefined, { renderer: "svg" });
    const lefts = [133, 531, 133, 531];
    const tops = [67, 67, 523, 523];
    const widths = [366, 354, 366, 354];
    const font = "'Liberation Sans', Arial, sans-serif";
    const grid = lefts.map((l, i) => ({ left: l, top: tops[i], width: widths[i], height: 366 }));
    const fmt = (v: number) => String(v);
    const xAxis = lefts.map((_, i) => ({
      type: "log", gridIndex: i, min: xMin, max: i % 2 ? xMaxRight : xMaxLeft,
      axisLine: { show: i >= 2, lineStyle: { color: "#000", width: 2 } },
      axisTick: { show: i >= 2, length: 15, lineStyle: { color: "#000", width: 2 }, customValues: tickValues },
      axisLabel: { show: i >= 2, color: "#000", fontSize: 29, fontFamily: font, margin: 21, formatter: fmt, customValues: tickValues },
      splitLine: { show: false },
    }));
    const yAxis = lefts.map((_, i) => ({
      type: "log", gridIndex: i, min: yMin, max: yMax,
      axisLine: { show: i % 2 === 0, lineStyle: { color: "#000", width: 2 } },
      axisTick: { show: i % 2 === 0, length: 15, lineStyle: { color: "#000", width: 2 }, customValues: tickValues },
      axisLabel: { show: i % 2 === 0, rotate: 90, color: "#000", fontSize: 29, fontFamily: font, margin: 29, formatter: fmt, customValues: tickValues, verticalAlign: "bottom", align: "center" },
      splitLine: { show: true, lineStyle: { color: "#EAF2F3", width: 4 } },
    }));
    const series: any[] = [];
    lefts.forEach((_, i) => {
      series.push({ type: "line", name: "grid" + i, xAxisIndex: i, yAxisIndex: i, data: [[1, vSpan[0]], [1, vSpan[1]]], symbol: "none", silent: true, lineStyle: { color: "#EAF2F3", width: 4 }, z: 1 });
      series.push({ type: "scatter", name: "Data " + titles[i], xAxisIndex: i, yAxisIndex: i, data: pts[i], symbolSize: 4, itemStyle: { color: "#17456E", opacity: 1 }, z: 2, clip: false, large: false });
      series.push({ type: "line", name: PIECE, xAxisIndex: i, yAxisIndex: i, data: pink[i], smooth: 0.3, symbol: "none", lineStyle: { color: "#FF69B4", width: 3.6 }, itemStyle: { color: "#FF69B4" }, z: 3 });
      series.push({ type: "line", name: CUBIC, xAxisIndex: i, yAxisIndex: i, data: green[i], smooth: 0.3, symbol: "none", lineStyle: { color: "#6AB564", width: 3.6 }, itemStyle: { color: "#6AB564" }, z: 4 });
    });
    chart.setOption({
      animation: false,
      backgroundColor: "#fff",
      grid, xAxis, yAxis, series,
      title: titles.map((t, i) => ({
        text: t, left: [311, 709, 311, 709][i], top: tops[i] - 62, textAlign: "center",
        textStyle: { fontSize: 43, fontWeight: "normal", color: "#000", fontFamily: font },
      })),
      legend: {
        data: [PIECE, CUBIC], orient: "vertical", left: 183, top: 1022, height: 400, itemWidth: 175, itemHeight: 4, icon: "rect", itemGap: 36,
        padding: [30, 27, 60, 20], borderColor: "#000", borderWidth: 2,
        textStyle: { fontSize: 28, color: "#000", fontFamily: font, padding: [0, 0, 0, 23] },
        selectedMode: false,
      },
      graphic: [
        { type: "text", x: 484, y: 983, style: { text: "Past Information / Past Prior", font: `37.3px ${font}`, fill: "#000", textAlign: "center", textVerticalAlign: "middle" } },
        { type: "text", x: 31, y: 480, rotation: Math.PI / 2, style: { text: "Future Posterior / Future Prior", font: `37.5px ${font}`, fill: "#000", textAlign: "center", textVerticalAlign: "middle" } },
      ],
    });
    return () => chart.dispose();
  }, []);
  return <div ref={ref} style={{ position: "absolute", left: 0, top: 0, width: 885, height: 1169 }} />;
}
